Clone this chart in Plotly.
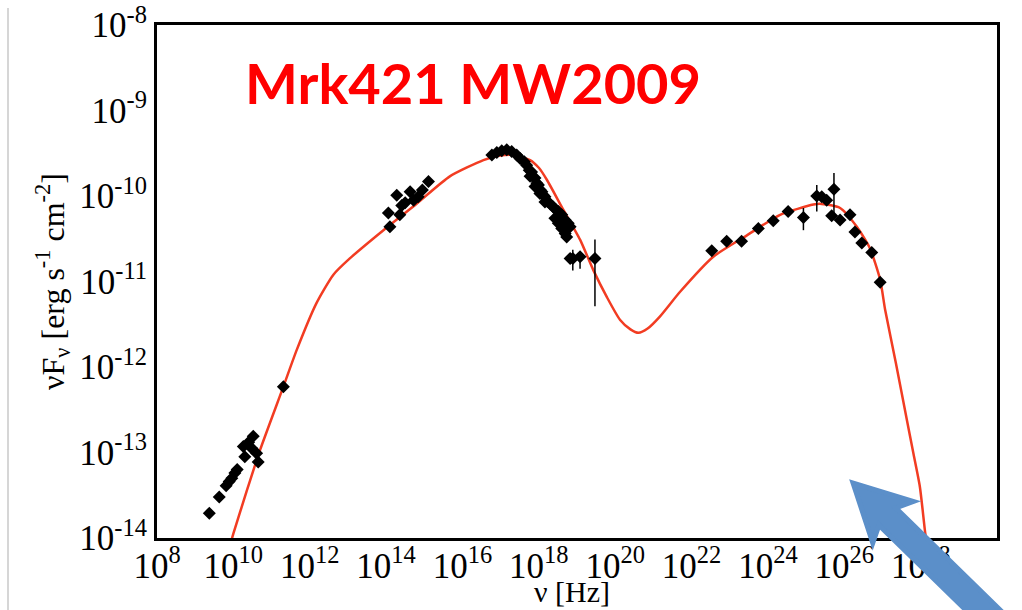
import math
import plotly.graph_objects as go
import numpy as np

# ---------------- data (log10 values) ----------------
model_lognu = [9.9, 10.0, 10.35, 10.7, 11.31, 11.66, 12.18, 12.62, 13.05, 13.93, 14.80, 15.67,
               16.55, 16.95, 17.33, 17.77, 18.0, 18.21, 18.64, 19.08, 19.43, 19.78, 20.13,
               20.4, 20.61, 20.85, 21.17, 21.70, 22.57, 23.45, 24.32, 25.19, 25.36, 25.89,
               26.33, 26.67, 26.94, 27.07, 27.35, 27.64, 27.81, 27.98, 28.12, 28.16]
model_logF = [-14.1, -13.95, -13.45, -12.97, -12.23, -11.80, -11.25, -10.92, -10.73, -10.40, -10.09, -9.77,
              -9.58, -9.53, -9.52, -9.58, -9.67, -9.81, -10.16, -10.51, -10.87, -11.18, -11.45,
              -11.56, -11.60, -11.55, -11.41, -11.12, -10.71, -10.46, -10.22, -10.10, -10.09, -10.14,
              -10.36, -10.61, -10.98, -11.33, -11.95, -12.62, -13.01, -13.40, -13.94, -14.05]

radio_lognu = [9.37, 9.63, 9.81, 9.89, 9.96, 10.04, 10.10, 10.26, 10.30, 10.40, 10.48, 10.52, 10.61, 10.65, 11.31]
radio_logF = [-13.71, -13.52, -13.39, -13.34, -13.30, -13.24, -13.20, -12.93, -13.05, -12.88, -12.95, -12.81, -13.01, -13.11, -12.23]

opt_lognu = [14.06, 14.10, 14.28, 14.36, 14.41, 14.50, 14.63, 14.72, 14.84, 14.95, 15.11]
opt_logF = [-10.20, -10.36, -9.99, -10.22, -10.11, -10.08, -9.95, -10.05, -10.01, -9.93, -9.83]

xray_lognu = [16.77, 16.90, 17.03, 17.16, 17.29, 17.42, 17.51,
              17.62, 17.68, 17.75, 17.81, 17.86, 17.90, 17.95, 17.99, 18.04, 18.08, 18.12, 18.16,
              18.22, 18.29, 18.38, 18.45, 18.51, 18.60, 18.69, 18.77,
              17.77, 17.90, 18.03, 18.16,
              18.42, 18.51, 18.60, 18.69, 18.73, 18.82]
xray_logF = [-9.52, -9.49, -9.47, -9.46, -9.48, -9.52, -9.56,
             -9.60, -9.64, -9.70, -9.72, -9.78, -9.79, -9.85, -9.87, -9.93, -9.95, -9.99, -10.01,
             -10.06, -10.09, -10.13, -10.16, -10.18, -10.22, -10.28, -10.32,
             -9.77, -9.89, -9.97, -10.07,
             -10.26, -10.32, -10.38, -10.44, -10.48, -10.36]

# points with error bars: (log nu, log F, log upper, log lower)
errpt_lognu = [18.82, 18.89, 19.08, 19.47, 24.93, 25.28, 25.73]
errpt_logF = [-10.73, -10.73, -10.71, -10.73, -10.25, -10.00, -9.92]
errpt_hi = [-10.73, -10.63, -10.67, -10.51, -10.14, -9.87, -9.73]
errpt_lo = [-10.73, -10.87, -10.85, -11.29, -10.40, -10.18, -10.20]

gamma_lognu = [22.53, 22.92, 23.31, 23.75, 24.14, 24.53, 25.41, 25.54, 25.67, 25.89, 26.15, 26.28, 26.46, 26.72, 26.94]
gamma_logF = [-10.64, -10.53, -10.53, -10.38, -10.29, -10.18, -10.01, -10.05, -10.23, -10.28, -10.22, -10.42, -10.55, -10.66, -11.01]

x_decades = list(range(8, 31))
y_decades = list(range(-14, -7))

# ---------------- figure ----------------
W, H = 1022, 610
L, R, T, B = 157, 25, 25, 72
PW, PH = W - L - R, H - T - B


def px2paper(px, py):
    return (px - L) / PW, (H - B - py) / PH


def p(v):
    return [10.0 ** a for a in v]


SERIF = "Liberation Serif"
fig = go.Figure()

fig.add_trace(go.Scatter(x=p(model_lognu), y=p(model_logF), mode="lines",
                         line=dict(color="#f23c22", width=2.5, shape="spline", smoothing=0.6),
                         hoverinfo="skip", showlegend=False))

mk = dict(symbol="diamond", size=10, color="black")
for lx, ly in [(radio_lognu, radio_logF), (opt_lognu, opt_logF), (xray_lognu, xray_logF),
               (gamma_lognu, gamma_logF)]:
    fig.add_trace(go.Scatter(x=p(lx), y=p(ly), mode="markers", marker=mk, showlegend=False))

F = p(errpt_logF)
up = [10 ** h - f for h, f in zip(errpt_hi, F)]
dn = [f - 10 ** l for l, f in zip(errpt_lo, F)]
fig.add_trace(go.Scatter(x=p(errpt_lognu), y=F, mode="markers", marker=mk, showlegend=False,
                         error_y=dict(type="data", symmetric=False, array=up, arrayminus=dn,
                                      color="black", thickness=1.5, width=0)))

# ---- tick marks on all four sides, as shapes (axis position in log units on log axes) ----
x_major = p(x_decades)
x_minor = [k * 10.0 ** d for d in x_decades[:-1] for k in range(2, 10)]
y_major = p(y_decades)
y_minor = [k * 10.0 ** d for d in y_decades[:-1] for k in range(2, 10)]

shapes = []
for vals, ln, wd in [(x_minor, 6, 1.5), (x_major, 13, 2.5)]:
    for v in vals:
        lv = math.log10(v)
        for y0, y1 in [(0, ln / PH), (1, 1 - ln / PH)]:
            shapes.append(dict(type="line", xref="x", yref="paper", x0=lv, x1=lv, y0=y0, y1=y1,
                               line=dict(color="black", width=wd), layer="above"))
for vals, ln, wd in [(y_minor, 9, 1.5), (y_major, 17, 2.5)]:
    for v in vals:
        lv = math.log10(v)
        for x0, x1 in [(0, ln / PW), (1, 1 - ln / PW)]:
            shapes.append(dict(type="line", xref="paper", yref="y", x0=x0, x1=x1, y0=lv, y1=lv,
                               line=dict(color="black", width=wd), layer="above"))

# labels: every second decade on x, every decade on y
xt_text = [f"10<sup>{d}</sup>" if d % 2 == 0 else "" for d in x_decades]
yt_text = [f"10<sup>{d}</sup>" for d in y_decades]

fig.update_layout(
    xaxis=dict(type="log", range=[8, 30], tickmode="array", tickvals=x_major, ticktext=xt_text,
               tickangle=0, ticks="", ticklabelstandoff=-5,
               showline=True, linewidth=3, linecolor="black", mirror=True,
               showgrid=False, zeroline=False,
               tickfont=dict(family=SERIF, size=35, color="black")),
    yaxis=dict(type="log", range=[-14, -8], tickmode="array", tickvals=y_major, ticktext=yt_text,
               tickangle=0, ticks="",
               showline=True, linewidth=3, linecolor="black", mirror=True,
               showgrid=False, zeroline=False,
               tickfont=dict(family=SERIF, size=35, color="black"),
               title=dict(text="νF<sub>ν</sub> [erg s<sup>-1</sup> cm<sup>-2</sup>]",
                          font=dict(family=SERIF, size=32, color="black"), standoff=6)),
)

# x-axis title
xtx, xty = px2paper(572, 592)
fig.add_annotation(x=xtx, y=xty, xref="paper", yref="paper", xanchor="center", yanchor="middle",
                   text="ν [Hz]", showarrow=False,
                   font=dict(family=SERIF, size=30, color="black"))

# title text
tx, ty = px2paper(243, 82)
fig.add_annotation(x=tx, y=ty, xref="paper", yref="paper", xanchor="left", yanchor="middle",
                   text="<b>Mrk421 MW2009</b>", showarrow=False,
                   font=dict(family="Lato", size=56, color="#ff0000"))

# slide border line
gx0, gy0 = px2paper(8, 8)
gx1, gy1 = px2paper(8, 610)
shapes.append(dict(type="line", xref="paper", yref="paper", x0=gx0, y0=gy0, x1=gx1, y1=gy1,
                   line=dict(color="#c8c8c8", width=1.5)))

# blue arrow (decoration)
tip = np.array([853.0, 483.0])
d = np.array([130.0, 127.0]); d /= np.linalg.norm(d)
n = np.array([-d[1], d[0]])
tail = tip + 230 * d
pts = [tip, tip + 56 * d + 29 * n, tip + 48 * d + 12 * n, tail + 12 * n,
       tail - 12 * n, tip + 48 * d - 12 * n, tip + 56 * d - 29 * n]
path = "M " + " L ".join("{:.4f},{:.4f}".format(*px2paper(*q)) for q in pts) + " Z"
shapes.append(dict(type="path", xref="paper", yref="paper", path=path,
                   fillcolor="#5b8fc9", line=dict(color="#5b8fc9", width=5)))

fig.update_layout(shapes=shapes, width=W, height=H,
                  margin=dict(l=L, r=R, t=T, b=B, autoexpand=False),
                  paper_bgcolor="white", plot_bgcolor="white", showlegend=False)

fig.write_html("out.html")
